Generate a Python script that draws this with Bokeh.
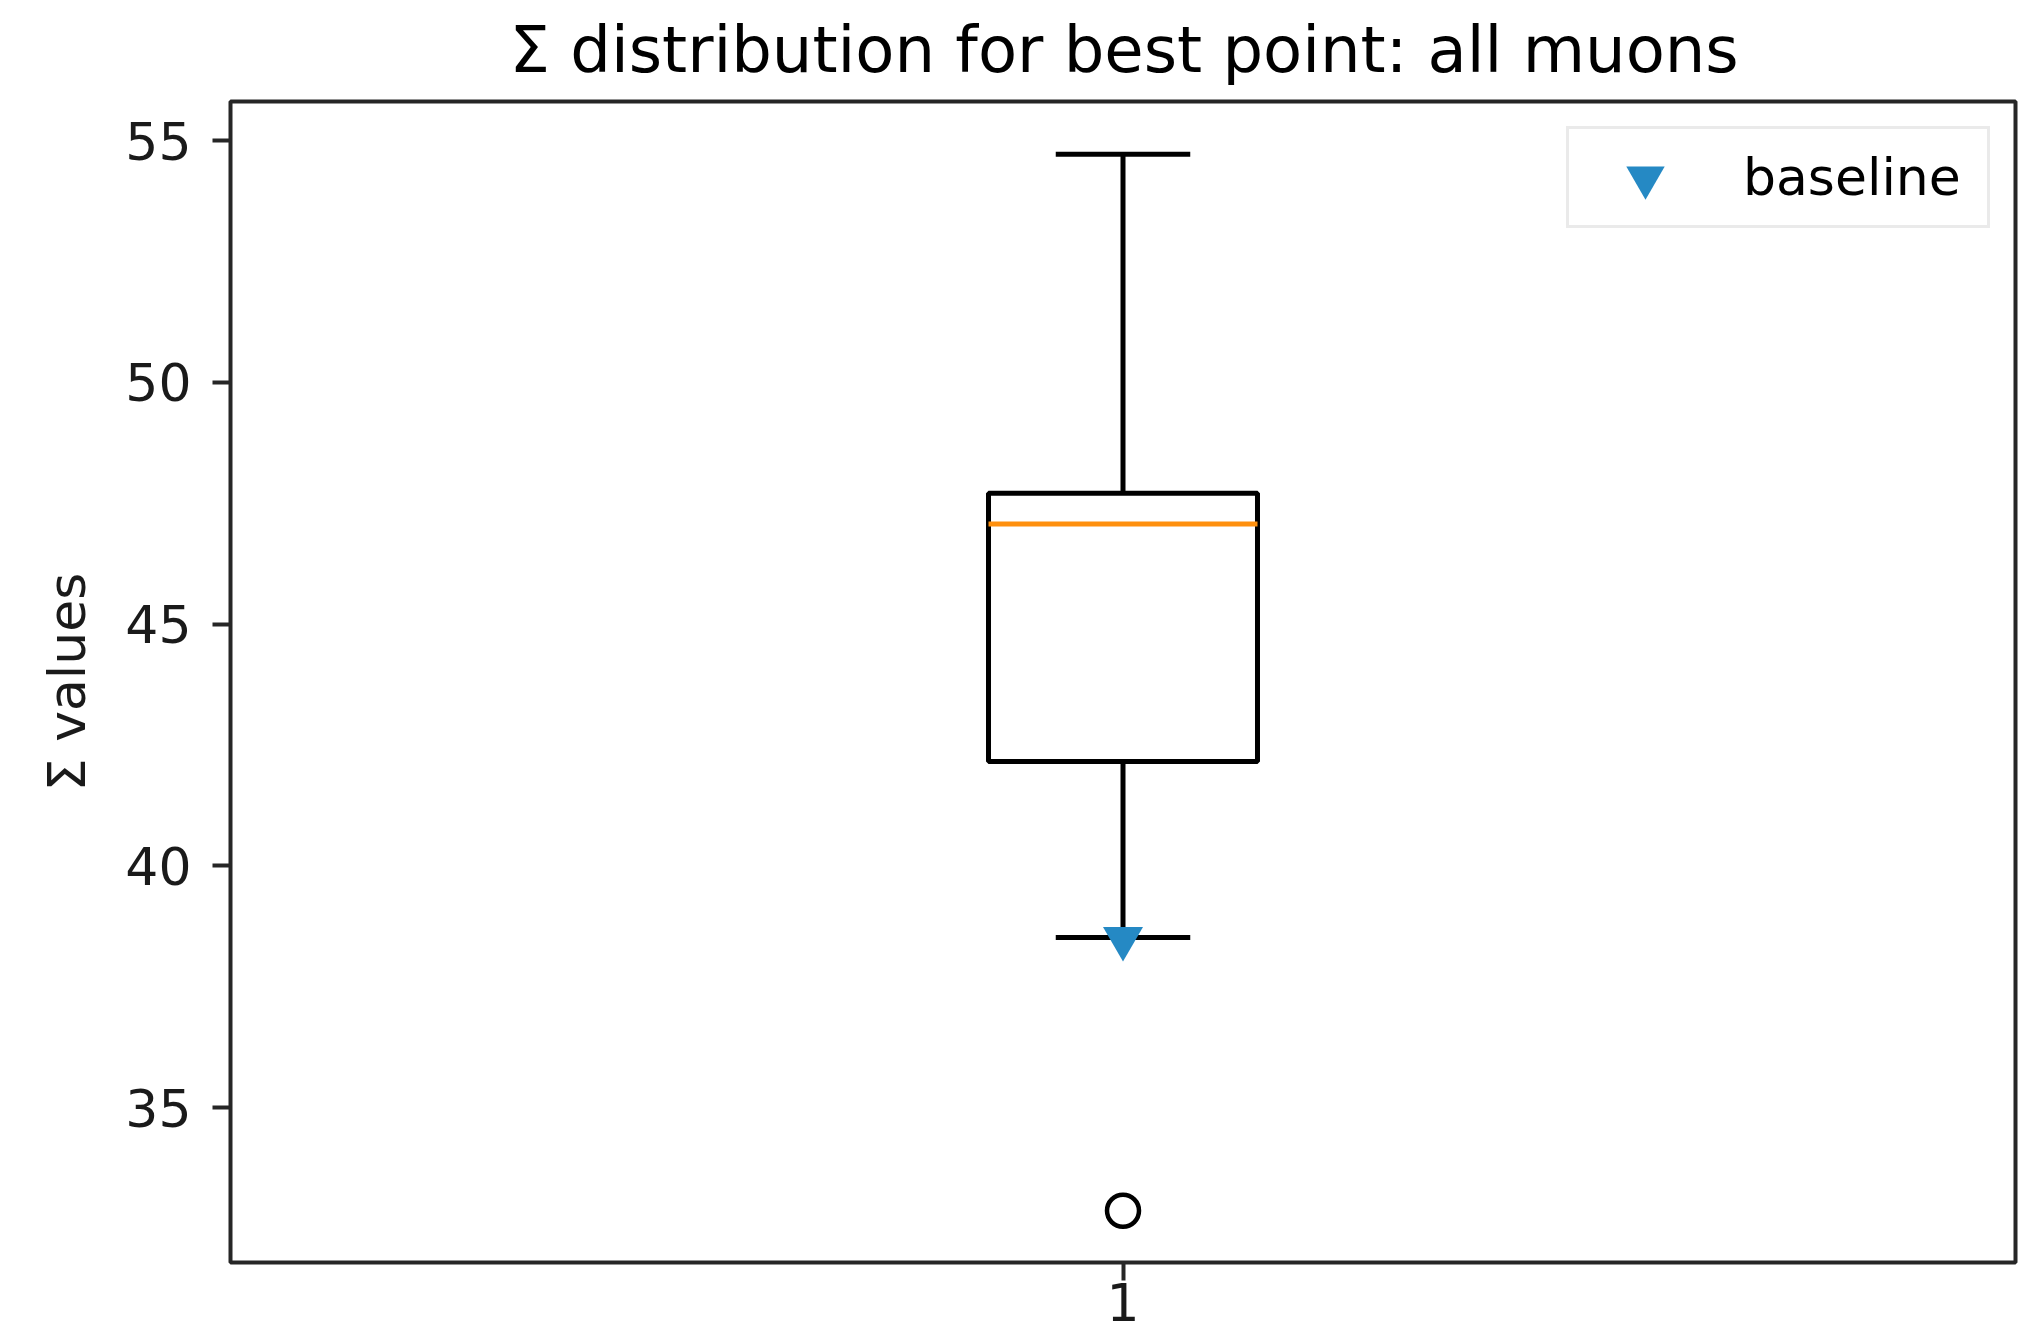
from bokeh.plotting import figure
from bokeh.models import Range1d, FixedTicker, Legend, LegendItem
from bokeh.embed import file_html
from bokeh.resources import INLINE

# ---- data ----
positions = [1]
tick_labels = ["1"]
q1 = [42.16]
median = [47.07]
q3 = [47.71]
whisker_low = [38.52]
whisker_high = [54.72]
outlier_pos = [1]
outliers = [32.87]
baseline = [38.5]
y_ticks = [35, 40, 45, 50, 55]

# ---- style ----
BOX_W = 0.5
CAP_W = 0.25
FONT = "DejaVu Sans"
FRAME = "#262626"
BLUE = "#2589c4"
ORANGE = "#ff900e"
LW = 5

p = figure(width=2023, height=1343, output_backend="svg", toolbar_location=None,
           x_range=Range1d(-0.659, 2.659), y_range=Range1d(31.80, 55.81),
           min_border_left=230, min_border_right=8, min_border_top=100,
           min_border_bottom=81, title="Σ distribution for best point: all muons")

p.title.text_font = FONT
p.title.text_font_size = "64px"
p.title.text_font_style = "normal"
p.title.text_color = "black"
p.title.align = "left"
p.title.offset = 279
p.title.vertical_align = "top"
p.title.standoff = 25

p.xgrid.visible = False
p.ygrid.visible = False
p.outline_line_color = FRAME
p.outline_line_width = 4
p.outline_line_alpha = 1.0

lefts = [x - BOX_W / 2 for x in positions]
rights = [x + BOX_W / 2 for x in positions]
cl = [x - CAP_W / 2 for x in positions]
cr = [x + CAP_W / 2 for x in positions]

# whiskers
p.segment(x0=positions, y0=q3, x1=positions, y1=whisker_high, line_color="black", line_width=LW)
p.segment(x0=positions, y0=q1, x1=positions, y1=whisker_low, line_color="black", line_width=LW)
# caps
p.segment(x0=cl, y0=whisker_high, x1=cr, y1=whisker_high, line_color="black", line_width=LW)
p.segment(x0=cl, y0=whisker_low, x1=cr, y1=whisker_low, line_color="black", line_width=LW)
# box
p.vbar(x=positions, width=BOX_W, bottom=q1, top=q3, fill_color="white",
       line_color="black", line_width=LW)
# median
p.segment(x0=lefts, y0=median, x1=rights, y1=median, line_color=ORANGE, line_width=LW)
# outliers
p.scatter(x=outlier_pos, y=outliers, marker="circle", size=32, fill_color=None,
          line_color="black", line_width=4.5)
# baseline
rb = p.scatter(x=positions, y=baseline, marker="inverted_triangle", size=40,
               fill_color=BLUE, line_color=None)

legend = Legend(items=[LegendItem(label="baseline", renderers=[rb])],
                location="top_right", margin=25, padding=0,
                glyph_width=152, glyph_height=96, label_standoff=22,
                label_width=244)
legend.label_text_font = FONT
legend.label_text_font_size = "52px"
legend.label_text_color = "black"
legend.border_line_color = "#d6d6d6"
legend.border_line_width = 3
legend.background_fill_color = "white"
legend.background_fill_alpha = 0.8
p.add_layout(legend)

for ax in (p.xaxis[0], p.yaxis[0]):
    ax.axis_line_color = None
    ax.major_tick_line_color = FRAME
    ax.major_tick_line_width = 4
    ax.major_tick_out = 18
    ax.major_tick_in = 0
    ax.minor_tick_line_color = None
    ax.major_label_text_font = FONT
    ax.major_label_text_font_size = "52px"
    ax.major_label_text_color = "#1a1a1a"

p.xaxis[0].ticker = FixedTicker(ticks=positions)
p.xaxis[0].major_label_overrides = {x: t for x, t in zip(positions, tick_labels)}
p.xaxis[0].major_label_standoff = 2

p.yaxis[0].ticker = FixedTicker(ticks=y_ticks)
p.yaxis[0].major_label_standoff = 21
p.yaxis[0].axis_label = "Σ values"
p.yaxis[0].axis_label_text_font = FONT
p.yaxis[0].axis_label_text_font_size = "52px"
p.yaxis[0].axis_label_text_font_style = "normal"
p.yaxis[0].axis_label_text_color = "#1a1a1a"
p.yaxis[0].axis_label_standoff = 25

open("out.html", "w").write(file_html(p, INLINE))
